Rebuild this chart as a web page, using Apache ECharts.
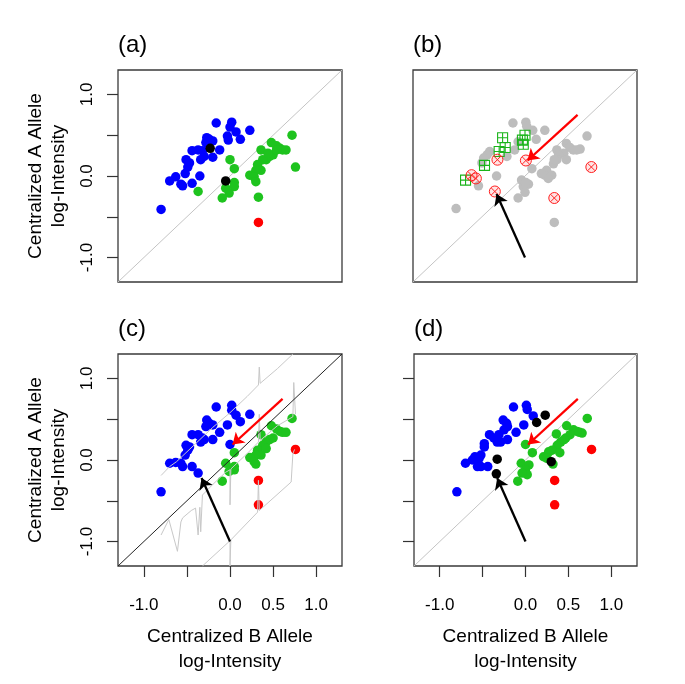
<!DOCTYPE html>
<html><head><meta charset="utf-8">
<script src="https://cdn.jsdelivr.net/npm/echarts@6/dist/echarts.min.js"></script>
<style>html,body{margin:0;padding:0;background:#fff}#c{width:685px;height:684px}</style>
</head><body><div id="c"></div>
<script>
// ---------- labels & ticks ----------
const panelTitles = ['(a)', '(b)', '(c)', '(d)'];
const axisRange = [-1.3, 1.3];
const tickValues = [-1, -0.5, 0, 0.5, 1];
const yLabelValues = [-1, 0, 1];
const xLabelValues = [-1, 0, 0.5, 1];
const xTitle = 'Centralized B Allele\nlog-Intensity';
const yTitle = 'Centralized A Allele\nlog-Intensity';
const diagonal = [[-1.3, -1.3], [1.3, 1.3]];

// ---------- panel (a) ----------
const aBlue = [[-0.16,0.65],[0.02,0.66],[0.00,0.60],[0.07,0.54],[0.23,0.56],[-0.03,0.49],[-0.02,0.44],[0.12,0.45],[-0.27,0.47],[-0.24,0.45],[-0.20,0.43],[-0.28,0.41],[-0.12,0.32],[-0.44,0.31],[-0.37,0.32],[-0.32,0.31],[-0.30,0.24],[-0.34,0.20],[-0.20,0.23],[-0.51,0.20],[-0.47,0.16],[-0.49,0.11],[-0.52,0.03],[-0.63,-0.01],[-0.70,-0.06],[-0.57,-0.10],[-0.55,-0.12],[-0.44,-0.09],[-0.35,0.00],[-0.80,-0.41]];
const aGreen = [[0.72,0.50],[0.48,0.41],[0.54,0.37],[0.58,0.34],[0.61,0.32],[0.65,0.32],[0.36,0.32],[0.50,0.26],[0.46,0.24],[0.42,0.20],[0.38,0.20],[0.32,0.14],[0.36,0.07],[0.30,0.07],[0.23,0.01],[0.28,-0.01],[0.30,-0.07],[0.00,0.20],[0.05,0.09],[-0.05,-0.15],[0.05,-0.08],[0.05,-0.13],[-0.01,-0.21],[-0.09,-0.27],[-0.37,-0.19],[0.33,-0.26],[0.76,0.11],[0.54,0.32],[0.44,0.28]];
const aRed = [[0.33,-0.57]];
const aBlack = [[-0.23,0.34],[-0.05,-0.06]];

// ---------- panel (b) ----------
const bGray = [[-0.14,0.65],[0.01,0.66],[0.02,0.61],[0.09,0.56],[0.23,0.56],[0.13,0.45],[-0.08,0.42],[-0.12,0.32],[-0.21,0.24],[-0.41,0.30],[-0.44,0.26],[-0.48,0.22],[-0.50,0.16],[-0.33,0.00],[-0.54,-0.12],[-0.80,-0.40],[0.37,0.32],[0.72,0.49],[0.56,0.32],[0.64,0.33],[0.48,0.40],[0.52,0.35],[0.45,0.28],[0.39,0.26],[0.37,0.20],[0.33,0.15],[0.25,0.07],[0.31,0.01],[0.23,0.01],[0.27,-0.03],[0.19,0.03],[0.08,0.09],[-0.04,-0.05],[0.04,-0.10],[-0.02,-0.13],[0.01,-0.08],[-0.08,-0.27],[0.00,-0.20],[0.34,-0.57],[0.60,0.32],[0.48,0.20],[0.34,0.20]];
const bSquares = [[-0.69,-0.05],[-0.47,0.13],[-0.30,0.30],[-0.23,0.35],[-0.26,0.47],[0.00,0.50],[-0.03,0.44],[-0.02,0.39]];
const bCrosses = [[-0.62,0.01],[-0.57,-0.03],[-0.32,0.20],[0.01,0.19],[-0.35,-0.19],[0.34,-0.27],[0.77,0.11]];

// ---------- panel (c) ----------
const cBlue = [[-0.16,0.65],[0.02,0.67],[0.02,0.61],[0.07,0.55],[0.23,0.56],[-0.03,0.43],[0.12,0.47],[-0.27,0.49],[-0.24,0.45],[-0.20,0.43],[-0.28,0.41],[-0.12,0.34],[-0.44,0.31],[-0.37,0.31],[-0.32,0.27],[-0.30,0.25],[-0.34,0.22],[-0.20,0.25],[-0.51,0.18],[-0.47,0.16],[-0.49,0.12],[-0.52,0.06],[-0.63,-0.03],[-0.70,-0.04],[-0.57,-0.04],[-0.55,-0.08],[-0.44,-0.08],[-0.37,-0.16],[-0.80,-0.39],[0.00,0.19]];
const cGreen = [[0.72,0.51],[0.48,0.42],[0.54,0.38],[0.58,0.35],[0.61,0.34],[0.65,0.34],[0.36,0.31],[0.50,0.27],[0.46,0.25],[0.42,0.22],[0.38,0.18],[0.32,0.12],[0.36,0.06],[0.30,0.06],[0.23,0.03],[0.28,-0.02],[0.30,-0.05],[0.05,0.09],[-0.05,-0.04],[0.05,-0.08],[0.05,-0.12],[-0.01,-0.14],[-0.09,-0.26],[0.01,-0.10],[0.42,0.14]];
const cRed = [[0.76,0.13],[0.33,-0.25],[0.33,-0.55]];
const cUpperTrace = [[-0.80,-0.19],[-0.70,-0.08],[-0.62,-0.02],[-0.55,0.05],[-0.40,0.20],[-0.20,0.40],[0.00,0.58],[0.20,0.78],[0.33,0.92],[0.34,1.14],[0.35,0.94],[0.55,1.12],[0.73,1.30]];
const cMiddleTrace = [[-0.80,-0.92],[-0.71,-0.73],[-0.61,-1.12],[-0.57,-0.76],[-0.55,-0.71],[-0.45,-0.62],[-0.40,-0.59],[-0.37,-0.92],[-0.35,-0.58],[-0.34,-0.88],[-0.32,-0.43],[-0.20,-0.30],[-0.05,-0.15],[0.00,-0.12],[0.00,-0.55],[0.01,-0.11],[0.20,0.08],[0.33,0.22],[0.34,0.56],[0.35,0.24],[0.55,0.42],[0.73,0.53],[0.74,0.95],[0.76,0.56]];
const cLowerTrace = [[-0.32,-1.30],[0.00,-0.99],[0.00,-1.30],[0.01,-0.98],[0.32,-0.64],[0.33,-0.25],[0.34,-0.62],[0.71,-0.27],[0.73,0.08],[0.75,0.13]];

// ---------- panel (d) ----------
const dBlue = [[-0.14,0.65],[0.01,0.67],[0.02,0.62],[0.09,0.54],[-0.02,0.43],[-0.11,0.34],[-0.26,0.49],[-0.22,0.45],[-0.21,0.41],[-0.25,0.37],[-0.31,0.31],[-0.29,0.22],[-0.21,0.25],[-0.42,0.31],[-0.48,0.20],[-0.48,0.16],[-0.37,0.27],[-0.33,0.22],[-0.52,0.06],[-0.54,0.02],[-0.59,0.04],[-0.70,-0.04],[-0.62,0.00],[-0.52,-0.08],[-0.44,-0.08],[-0.80,-0.39],[-0.56,-0.08]];
const dGreen = [[0.72,0.51],[0.48,0.42],[0.56,0.37],[0.63,0.34],[0.66,0.33],[0.60,0.35],[0.36,0.32],[0.41,0.22],[0.47,0.27],[0.37,0.18],[0.31,0.12],[0.27,0.10],[0.21,0.04],[0.32,-0.05],[0.40,0.09],[0.00,0.19],[0.08,0.09],[-0.05,-0.04],[0.04,-0.06],[0.00,-0.12],[0.02,-0.18],[-0.09,-0.26],[-0.04,-0.16],[0.25,0.02],[0.52,0.31],[0.45,0.25]];
const dRed = [[0.77,0.13],[0.34,-0.25],[0.34,-0.55]];
const dBlack = [[0.23,0.55],[0.13,0.46],[-0.33,0.01],[-0.34,-0.17],[0.30,-0.02]];

// ---------- arrows (shared by b, c, d) ----------
const redArrow = [[0.61, 0.75], [0.03, 0.19]];
const blackArrow = [[0.00, -1.00], [-0.33, -0.22]];

// ---------- styling ----------
const FONT = 'Liberation Sans, Arial, sans-serif';
const BLUE = '#0000ff', GREEN = '#1ec31e', RED = '#ff0000', BLACK = '#000000', GRAY = '#bdbdbd';
const squarePlus = 'path://M0,0 L10,0 L10,10 L0,10 Z M5,0 L5,10 M0,5 L10,5';
const circleX = 'path://M10,5 A5,5 0 1,1 0,5 A5,5 0 1,1 10,5 Z M1.6,1.6 L8.4,8.4 M8.4,1.6 L1.6,8.4';

const grids = [
  {left: 118, top: 70, width: 224, height: 212},
  {left: 413, top: 70, width: 224, height: 212},
  {left: 118, top: 354, width: 224, height: 212},
  {left: 414, top: 354, width: 223, height: 212}
].map(g => Object.assign({show: true, borderColor: '#3a3a3a', borderWidth: 1.3, backgroundColor: '#fff'}, g));

function xAxisFor(i, show) {
  return {
    type: 'value', gridIndex: i, min: axisRange[0], max: axisRange[1], position: 'bottom',
    axisLine: {show: false, onZero: false}, splitLine: {show: false},
    axisTick: {show: show, inside: false, length: 11, customValues: tickValues, lineStyle: {color: '#333', width: 1.2}},
    axisLabel: {show: show, customValues: xLabelValues, formatter: v => v.toFixed(1),
      fontSize: 17, color: '#000', margin: 31, fontFamily: FONT},
    name: show ? xTitle : '', nameLocation: 'middle', nameGap: 58,
    nameTextStyle: {fontSize: 19, color: '#000', lineHeight: 25, fontFamily: FONT}
  };
}
function yAxisFor(i, showTicks, showLabels) {
  return {
    type: 'value', gridIndex: i, min: axisRange[0], max: axisRange[1], position: 'left',
    axisLine: {show: false, onZero: false}, splitLine: {show: false},
    axisTick: {show: showTicks, inside: false, length: 11, customValues: tickValues, lineStyle: {color: '#333', width: 1.2}},
    axisLabel: {show: showLabels, customValues: yLabelValues, formatter: v => v.toFixed(1), rotate: 90,
      fontSize: 17, color: '#000', margin: 22, fontFamily: FONT},
    name: showLabels ? yTitle : '', nameLocation: 'middle', nameGap: 48, nameRotate: 90,
    nameTextStyle: {fontSize: 19, color: '#000', lineHeight: 23, fontFamily: FONT}
  };
}

function dots(i, data, color, z) {
  return {type: 'scatter', xAxisIndex: i, yAxisIndex: i, data: data, symbol: 'circle', symbolSize: 9.5,
    itemStyle: {color: color, opacity: 1}, z: z || 3, silent: true};
}
function line(i, data, color, width, z) {
  return {type: 'line', xAxisIndex: i, yAxisIndex: i, data: data, symbol: 'none', showSymbol: false,
    lineStyle: {color: color, width: width}, z: z || 2, silent: true, clip: true};
}
function arrow(i, coords, color) {
  return {type: 'lines', coordinateSystem: 'cartesian2d', xAxisIndex: i, yAxisIndex: i, polyline: false,
    symbol: ['none', 'arrow'], symbolSize: 11, silent: true, z: 6,
    lineStyle: {color: color, width: 2.3, opacity: 1, curveness: 0},
    data: [{coords: coords}]};
}

const series = [
  // (a)
  line(0, diagonal, '#c4c4c4', 1),
  dots(0, aBlue, BLUE), dots(0, aGreen, GREEN), dots(0, aRed, RED), dots(0, aBlack, BLACK, 4),
  // (b)
  line(1, diagonal, '#c4c4c4', 1),
  dots(1, bGray, GRAY),
  {type: 'scatter', xAxisIndex: 1, yAxisIndex: 1, data: bSquares, symbol: squarePlus, symbolSize: 10, silent: true, z: 4,
    itemStyle: {color: 'rgba(0,0,0,0)', borderColor: '#1ab41a', borderWidth: 1.1, opacity: 1}},
  {type: 'scatter', xAxisIndex: 1, yAxisIndex: 1, data: bCrosses, symbol: circleX, symbolSize: 11, silent: true, z: 4,
    itemStyle: {color: 'rgba(255,0,0,0.10)', borderColor: '#ff2020', borderWidth: 1, opacity: 1}},
  arrow(1, redArrow, RED), arrow(1, blackArrow, BLACK),
  // (c)
  dots(2, cBlue, BLUE), dots(2, cGreen, GREEN), dots(2, cRed, RED),
  line(2, cUpperTrace, '#c8c8c8', 1, 4), line(2, cMiddleTrace, '#c8c8c8', 1, 4), line(2, cLowerTrace, '#c8c8c8', 1, 4),
  line(2, diagonal, '#222', 1, 5),
  arrow(2, redArrow, RED), arrow(2, blackArrow, BLACK),
  // (d)
  line(3, diagonal, '#c4c4c4', 1),
  dots(3, dBlue, BLUE), dots(3, dGreen, GREEN), dots(3, dRed, RED), dots(3, dBlack, BLACK, 4),
  arrow(3, redArrow, RED), arrow(3, blackArrow, BLACK)
];

const chart = echarts.init(document.getElementById('c'), null, {renderer: 'canvas'});
chart.setOption({
  animation: false,
  backgroundColor: '#fff',
  title: panelTitles.map((t, i) => ({text: t, left: grids[i].left, top: grids[i].top - 37, padding: 0,
    textStyle: {fontSize: 24, fontWeight: 'normal', color: '#000', fontFamily: FONT}})),
  grid: grids,
  xAxis: [xAxisFor(0, false), xAxisFor(1, false), xAxisFor(2, true), xAxisFor(3, true)],
  yAxis: [yAxisFor(0, true, true), yAxisFor(1, false, false), yAxisFor(2, true, true), yAxisFor(3, true, false)],
  series: series
});
</script></body></html>
